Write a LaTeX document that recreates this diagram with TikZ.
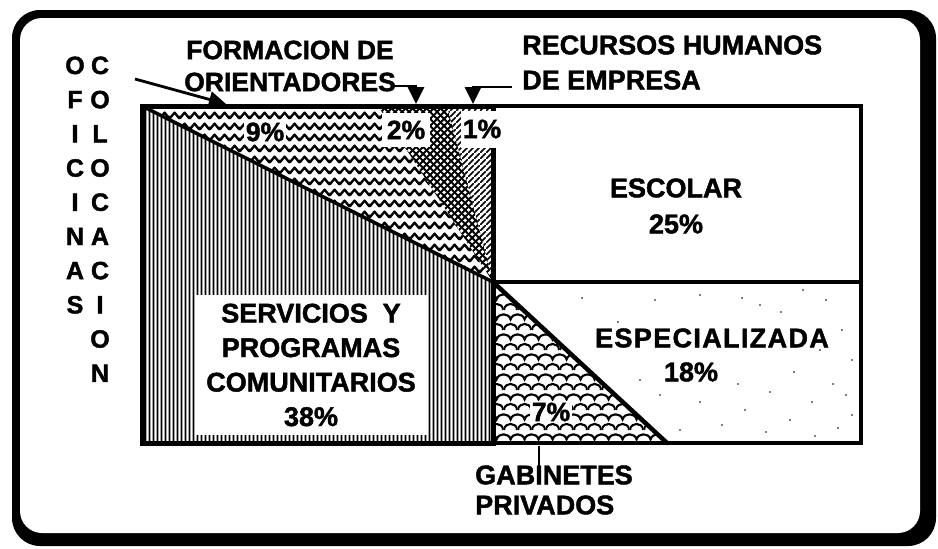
\documentclass[tikz,border=0pt]{standalone}
\usepackage{fontspec}
\setmainfont{Liberation Sans}[BoldFeatures={FakeBold=1.6}]
\usetikzlibrary{patterns,patterns.meta,arrows.meta}

\pgfdeclarepattern{
  name=vlinesdense, type=uncolored,
  bottom left={\pgfpoint{0pt}{0pt}}, top right={\pgfpoint{3.5pt}{3.5pt}},
  tile size={\pgfpoint{3.5pt}{3.5pt}},
  code={\pgfsetlinewidth{1.9pt}
    \pgfpathmoveto{\pgfpoint{1.75pt}{-1pt}}\pgfpathlineto{\pgfpoint{1.75pt}{4.5pt}}
    \pgfusepath{stroke}}
}
\pgfdeclarepattern{
  name=wavepat, type=uncolored,
  bottom left={\pgfpoint{0pt}{0pt}}, top right={\pgfpoint{10pt}{11pt}},
  tile size={\pgfpoint{10pt}{11pt}},
  code={\pgfsetlinewidth{2.6pt}\pgfsetroundjoin\pgfsetroundcap
    \pgfpathmoveto{\pgfpoint{-2.5pt}{5pt}}
    \pgfpathlineto{\pgfpoint{0pt}{2pt}}
    \pgfpathlineto{\pgfpoint{5pt}{8pt}}
    \pgfpathlineto{\pgfpoint{10pt}{2pt}}
    \pgfpathlineto{\pgfpoint{12.5pt}{5pt}}
    \pgfusepath{stroke}}
}
\pgfdeclarepattern{
  name=xhatch, type=uncolored,
  bottom left={\pgfpoint{0pt}{0pt}}, top right={\pgfpoint{7pt}{7pt}},
  tile size={\pgfpoint{7pt}{7pt}},
  code={\pgfsetlinewidth{2.2pt}
    \pgfpathmoveto{\pgfpoint{-1pt}{-1pt}}\pgfpathlineto{\pgfpoint{8pt}{8pt}}
    \pgfpathmoveto{\pgfpoint{-1pt}{8pt}}\pgfpathlineto{\pgfpoint{8pt}{-1pt}}
    \pgfusepath{stroke}}
}
\pgfdeclarepattern{
  name=nehatch, type=uncolored,
  bottom left={\pgfpoint{0pt}{0pt}}, top right={\pgfpoint{6pt}{6pt}},
  tile size={\pgfpoint{6pt}{6pt}},
  code={\pgfsetlinewidth{1.9pt}
    \pgfpathmoveto{\pgfpoint{-1pt}{-1pt}}\pgfpathlineto{\pgfpoint{7pt}{7pt}}
    \pgfusepath{stroke}}
}
\pgfdeclarepattern{
  name=scalepat, type=uncolored,
  bottom left={\pgfpoint{0pt}{0pt}}, top right={\pgfpoint{14pt}{20pt}},
  tile size={\pgfpoint{14pt}{20pt}},
  code={\pgfsetlinewidth{2.2pt}
    \pgfpathmoveto{\pgfpoint{0pt}{0pt}}
    \pgfpathcurveto{\pgfpoint{2pt}{7pt}}{\pgfpoint{12pt}{7pt}}{\pgfpoint{14pt}{0pt}}
    \pgfpathmoveto{\pgfpoint{-7pt}{10pt}}
    \pgfpathcurveto{\pgfpoint{-5pt}{17pt}}{\pgfpoint{5pt}{17pt}}{\pgfpoint{7pt}{10pt}}
    \pgfpathcurveto{\pgfpoint{9pt}{17pt}}{\pgfpoint{19pt}{17pt}}{\pgfpoint{21pt}{10pt}}
    \pgfpathmoveto{\pgfpoint{0pt}{20pt}}
    \pgfpathcurveto{\pgfpoint{2pt}{27pt}}{\pgfpoint{12pt}{27pt}}{\pgfpoint{14pt}{20pt}}
    \pgfusepath{stroke}}
}

\begin{document}
\begin{tikzpicture}[x=1pt,y=-1pt,
  lbl/.style={font=\fontsize{27}{34.5}\selectfont\bfseries, inner sep=0pt, align=center},
  colltr/.style={font=\fontsize{25}{25}\selectfont\bfseries, inner sep=0pt, anchor=base},
  arr/.style={line width=2.8pt, -{Triangle[length=17pt,width=16pt]}},
  pct/.style={font=\fontsize{26.5}{26.5}\selectfont\bfseries, fill=white},
  dot/.style={fill=black}
]
\useasboundingbox (0,0) rectangle (938,549);

% outer frame
\fill[black, rounded corners=28pt] (12,10) rectangle (936,546);
\fill[white, rounded corners=22pt] (20,18) rectangle (920,533);

% chart coordinates
\coordinate (TL) at (142,106);
\coordinate (C)  at (493,282);
\coordinate (BL) at (142,443);
\coordinate (BM) at (493,443);
\coordinate (TM) at (493,106);
\coordinate (TR) at (861,106);
\coordinate (BR) at (861,443);
\coordinate (MR) at (861,282);
\coordinate (W1) at (378,106);
\coordinate (W2) at (447,106);
\coordinate (G1) at (667,443);

% patterned regions
\fill[pattern=vlinesdense] (TL) -- (C) -- (BM) -- (BL) -- cycle;
\fill[pattern=wavepat] (TL) -- (W1) -- (C) -- cycle;
\fill[pattern=xhatch] (W1) -- (W2) -- (C) -- cycle;
\fill[pattern=nehatch] (W2) -- (TM) -- (C) -- cycle;
\fill[pattern=scalepat] (C) -- (BM) -- (G1) -- cycle;

% sparse stipple in ESPECIALIZADA
\foreach \px/\py in {618/322, 655/300, 700/295, 742/298, 760/305, 781/312, 803/290, 826/300,
  842/330, 852/360, 833/384, 812/402, 790/420, 766/432, 745/410, 722/425, 700/402,
  680/430, 660/395, 838/428, 815/436, 852/415, 770/392, 794/372, 612/395, 640/380,
  738/384, 846/395, 820/350, 582/298}
  \fill[dot] (\px,\py) circle (0.9pt);

% outlines
\draw[line width=3.5pt] (TL) -- (C);
\draw[line width=4.5pt, line cap=round] (C) -- (G1);
\draw[line width=3.5pt] (TM) rectangle (BR);
\draw[line width=3.5pt] (C) -- (MR);
\draw[line width=5pt] (TL) rectangle (BM);

% labels in the chart
\node[lbl, fill=white, minimum width=232pt, minimum height=140pt] (serv) at (311,365)
  {SERVICIOS\hspace{0.55em}Y\\PROGRAMAS\\COMUNITARIOS\\38\%};
\node[pct, inner sep=2pt] (p9) at (265,132) {9\%};
\node[pct, inner sep=0pt, minimum width=48pt, minimum height=34pt] (p2) at (406,130) {2\%};
\node[pct, inner sep=0pt, minimum width=42pt, minimum height=37pt] (p1) at (482,129) {1\%};
\node[pct, inner sep=2pt] (p7) at (551,412) {7\%};
\node[lbl, font=\fontsize{27}{36}\selectfont\bfseries] (esc) at (676,206) {ESCOLAR\\25\%};
\node[lbl, font=\fontsize{27}{36}\selectfont\bfseries\addfontfeatures{LetterSpace=5}] (espA) at (712,338) {ESPECIALIZADA};
\node[lbl, font=\fontsize{27}{36}\selectfont\bfseries] (espB) at (691,372) {18\%};

% outside labels
\node[lbl, font=\fontsize{26.5}{32}\selectfont\bfseries] (form) at (290,66) {FORMACION DE\\ORIENTADORES};
\node[lbl, align=left, anchor=west, font=\fontsize{27}{35}\selectfont\bfseries] (recu) at (522,62.5) {RECURSOS HUMANOS\\DE EMPRESA};
\node[lbl, align=left, anchor=west, font=\fontsize{27}{30}\selectfont\bfseries] (gabi) at (475,490) {GABINETES\\PRIVADOS};

% vertical words
\foreach \ch [count=\i] in {O,F,I,C,I,N,A,S}
  \node[colltr] (oa\i) at (75,{74+34.2*(\i-1)}) {\ch};
\foreach \ch [count=\i] in {C,O,L,O,C,A,C,I,O,N}
  \node[colltr] (ob\i) at (100,{74+34.2*(\i-1)}) {\ch};

% connectors
\coordinate (ofS) at (135,79);
\coordinate (ofT) at (226,104);
\draw[arr] (ofS) -- (ofT);
\coordinate (foS) at (391,86);
\coordinate (foT) at (416,104);
\draw[arr] (foS) -| (foT);
\coordinate (reS) at (512,87);
\coordinate (reT) at (473,104);
\draw[arr] (reS) -| (reT);
\coordinate (gaS) at (539,446);
\coordinate (gaT) at (539,470);
\draw[line width=1.3pt] (gaS) -- (gaT);
\end{tikzpicture}
\end{document}
